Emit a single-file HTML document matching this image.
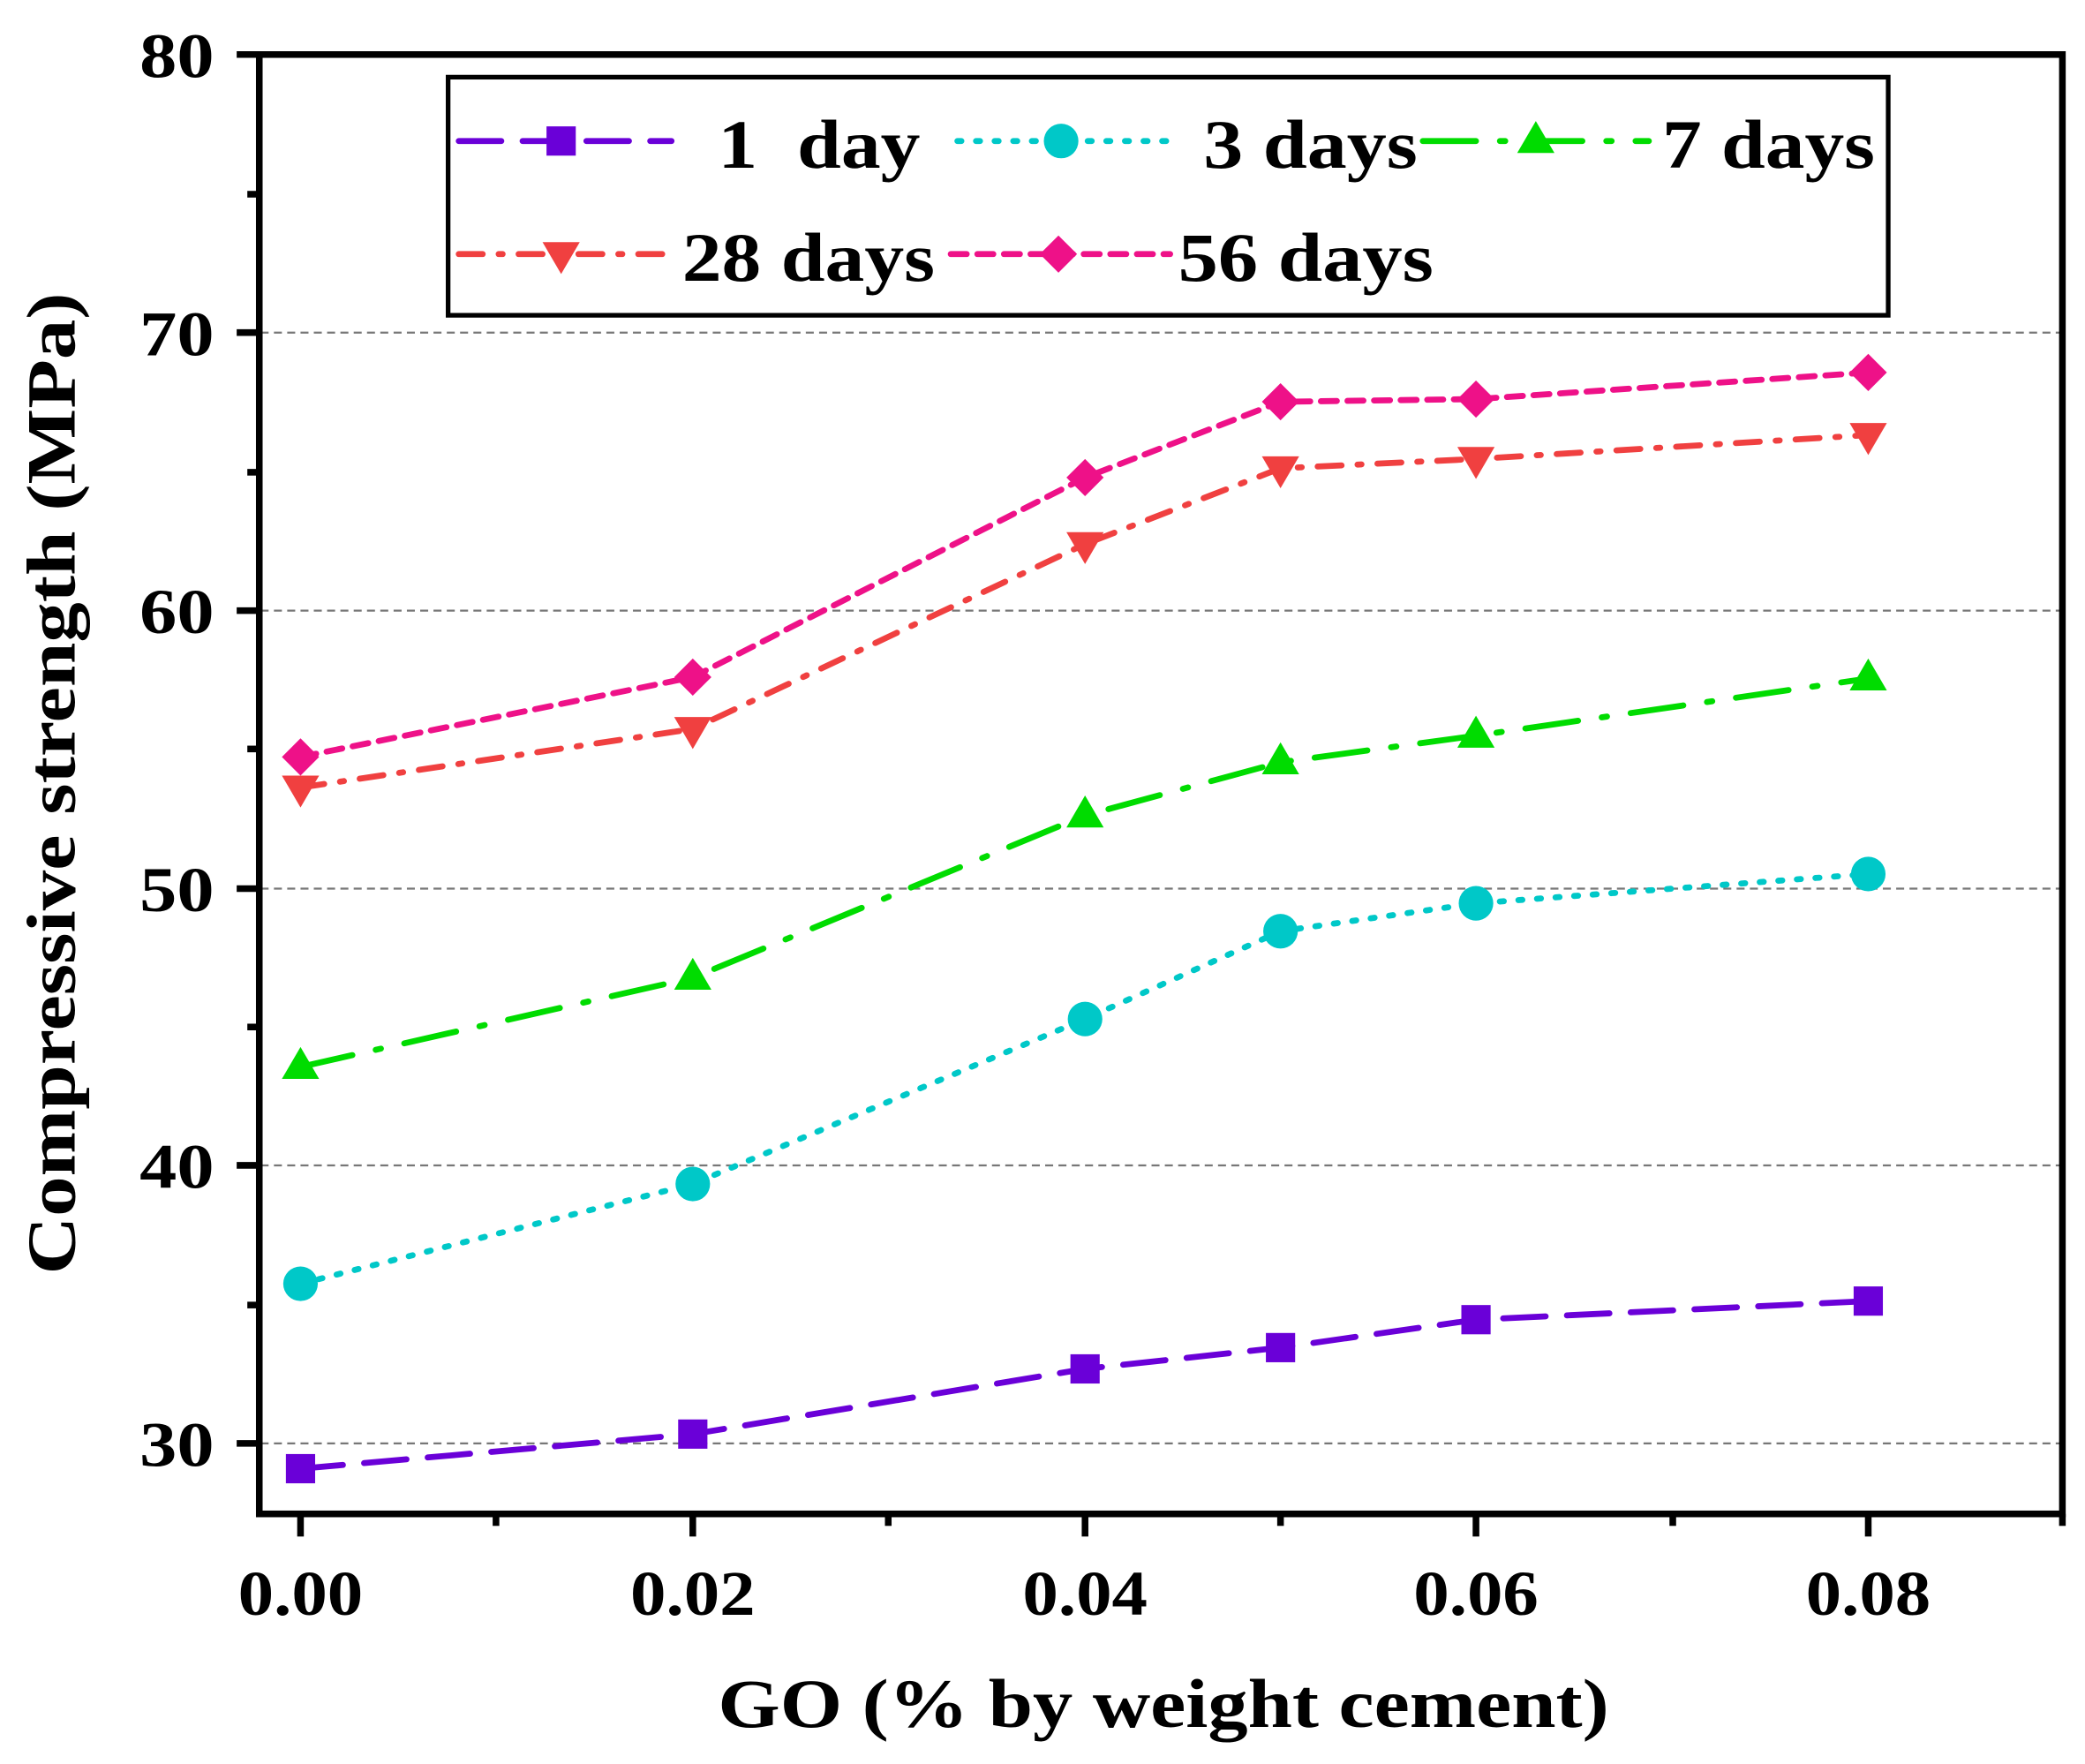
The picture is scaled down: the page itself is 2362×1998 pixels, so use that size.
<!DOCTYPE html>
<html><head><meta charset="utf-8"><style>html,body{margin:0;padding:0;background:#fff}svg{display:block}</style></head>
<body>
<svg width="2362" height="1998" viewBox="0 0 1568 1326" preserveAspectRatio="none" xmlns="http://www.w3.org/2000/svg" font-family="Liberation Serif, serif" font-weight="bold">
<rect width="1568" height="1326" fill="#fff"/>
<g stroke="#777" stroke-width="1.5" stroke-dasharray="6,4">
<line x1="196" y1="250" x2="1551" y2="250"/><line x1="196" y1="459" x2="1551" y2="459"/><line x1="196" y1="668" x2="1551" y2="668"/><line x1="196" y1="876" x2="1551" y2="876"/><line x1="196" y1="1085" x2="1551" y2="1085"/>
</g>
<g stroke="#000" stroke-width="5">
<line x1="178" y1="41" x2="195" y2="41"/><line x1="178" y1="250" x2="195" y2="250"/><line x1="178" y1="459" x2="195" y2="459"/><line x1="178" y1="668" x2="195" y2="668"/><line x1="178" y1="876" x2="195" y2="876"/><line x1="178" y1="1085" x2="195" y2="1085"/>
<line x1="186" y1="146" x2="195" y2="146"/><line x1="186" y1="355" x2="195" y2="355"/><line x1="186" y1="563" x2="195" y2="563"/><line x1="186" y1="772" x2="195" y2="772"/><line x1="186" y1="981" x2="195" y2="981"/>
<line x1="226" y1="1138" x2="226" y2="1155"/><line x1="521" y1="1138" x2="521" y2="1155"/><line x1="816" y1="1138" x2="816" y2="1155"/><line x1="1110" y1="1138" x2="1110" y2="1155"/><line x1="1405" y1="1138" x2="1405" y2="1155"/>
<line x1="373" y1="1138" x2="373" y2="1147"/><line x1="668" y1="1138" x2="668" y2="1147"/><line x1="963" y1="1138" x2="963" y2="1147"/><line x1="1258" y1="1138" x2="1258" y2="1147"/><line x1="1551" y1="1138" x2="1551" y2="1147"/>
</g>
<rect x="195" y="41" width="1356" height="1097" fill="none" stroke="#000" stroke-width="5"/>
<g font-size="48" lengthAdjust="spacingAndGlyphs">
<text x="105" y="58" textLength="56" lengthAdjust="spacingAndGlyphs">80</text><text x="105" y="267" textLength="56" lengthAdjust="spacingAndGlyphs">70</text><text x="105" y="476" textLength="56" lengthAdjust="spacingAndGlyphs">60</text><text x="105" y="685" textLength="56" lengthAdjust="spacingAndGlyphs">50</text><text x="105" y="893" textLength="56" lengthAdjust="spacingAndGlyphs">40</text><text x="105" y="1102" textLength="56" lengthAdjust="spacingAndGlyphs">30</text>
</g>
<g font-size="48">
<text x="179" y="1214" textLength="94" lengthAdjust="spacingAndGlyphs">0.00</text><text x="474" y="1214" textLength="94" lengthAdjust="spacingAndGlyphs">0.02</text><text x="769" y="1214" textLength="94" lengthAdjust="spacingAndGlyphs">0.04</text><text x="1063" y="1214" textLength="94" lengthAdjust="spacingAndGlyphs">0.06</text><text x="1358" y="1214" textLength="94" lengthAdjust="spacingAndGlyphs">0.08</text>
</g>
<text x="540" y="1298" font-size="52" textLength="670" lengthAdjust="spacingAndGlyphs">GO (% by weight cement)</text>
<text transform="translate(56,958) rotate(-90)" font-size="52" textLength="738" lengthAdjust="spacingAndGlyphs">Compressive strength (MPa)</text>
<g fill="none" stroke-width="4.5" stroke-linecap="round">
<polyline stroke="#6a00d8" stroke-dasharray="32,16" points="226,1104 521,1078 816,1029 963,1013 1110,992 1405,978"/>
<polyline stroke="#00c8c8" stroke-dasharray="3,11" points="226,965 521,890 816,766 963,700 1110,679 1405,657"/>
<polyline stroke="#00dc00" stroke-dasharray="40,18,4,18" points="226,802 521,735 816,613 963,573 1110,553 1405,510"/>
<polyline stroke="#f04040" stroke-dasharray="18,12,3,12" points="226,592 521,548 816,409 963,352 1110,345 1405,327"/>
<polyline stroke="#ee1188" stroke-dasharray="12,8" points="226,569 521,509 816,359 963,302 1110,300 1405,280"/>
</g>
<g fill="#6a00d8"><rect x="215" y="1093" width="22" height="22"/><rect x="510" y="1067" width="22" height="22"/><rect x="805" y="1018" width="22" height="22"/><rect x="952" y="1002" width="22" height="22"/><rect x="1099" y="981" width="22" height="22"/><rect x="1394" y="967" width="22" height="22"/></g>
<g fill="#00c8c8"><circle cx="226" cy="965" r="13"/><circle cx="521" cy="890" r="13"/><circle cx="816" cy="766" r="13"/><circle cx="963" cy="700" r="13"/><circle cx="1110" cy="679" r="13"/><circle cx="1405" cy="657" r="13"/></g>
<g fill="#00dc00"><path d="M226,787 l14,24 h-28z"/><path d="M521,720 l14,24 h-28z"/><path d="M816,598 l14,24 h-28z"/><path d="M963,558 l14,24 h-28z"/><path d="M1110,538 l14,24 h-28z"/><path d="M1405,495 l14,24 h-28z"/></g>
<g fill="#f04040"><path d="M226,607 l14,-24 h-28z"/><path d="M521,563 l14,-24 h-28z"/><path d="M816,424 l14,-24 h-28z"/><path d="M963,367 l14,-24 h-28z"/><path d="M1110,360 l14,-24 h-28z"/><path d="M1405,342 l14,-24 h-28z"/></g>
<g fill="#ee1188"><path d="M226,555 l14,14 l-14,14 l-14,-14z"/><path d="M521,495 l14,14 l-14,14 l-14,-14z"/><path d="M816,345 l14,14 l-14,14 l-14,-14z"/><path d="M963,288 l14,14 l-14,14 l-14,-14z"/><path d="M1110,286 l14,14 l-14,14 l-14,-14z"/><path d="M1405,266 l14,14 l-14,14 l-14,-14z"/></g>
<rect x="337" y="58" width="1083" height="179" fill="#fff" stroke="#000" stroke-width="3.5"/>
<g fill="none" stroke-width="4.5" stroke-linecap="round">
<line x1="345" y1="106" x2="505" y2="106" stroke="#6a00d8" stroke-dasharray="32,16"/>
<line x1="720" y1="106" x2="880" y2="106" stroke="#00c8c8" stroke-dasharray="3,11"/>
<line x1="1070" y1="106" x2="1240" y2="106" stroke="#00dc00" stroke-dasharray="40,18,4,18"/>
<line x1="345" y1="191" x2="505" y2="191" stroke="#f04040" stroke-dasharray="18,12,3,12"/>
<line x1="715" y1="191" x2="880" y2="191" stroke="#ee1188" stroke-dasharray="12,8"/>
</g>
<rect x="411" y="95" width="22" height="22" fill="#6a00d8"/>
<circle cx="798" cy="106" r="13" fill="#00c8c8"/>
<path d="M1155,91 l14,24 h-28z" fill="#00dc00"/>
<path d="M422,206 l14,-24 h-28z" fill="#f04040"/>
<path d="M796,177 l14,14 l-14,14 l-14,-14z" fill="#ee1188"/>
<g font-size="52">
<text x="540" y="126" textLength="152" lengthAdjust="spacingAndGlyphs" xml:space="preserve">1  day</text>
<text x="905" y="126" textLength="161" lengthAdjust="spacingAndGlyphs">3 days</text>
<text x="1250" y="126" textLength="160" lengthAdjust="spacingAndGlyphs">7 days</text>
<text x="513" y="211" textLength="190" lengthAdjust="spacingAndGlyphs">28 days</text>
<text x="886" y="211" textLength="192" lengthAdjust="spacingAndGlyphs">56 days</text>
</g>
</svg>
</body></html>
